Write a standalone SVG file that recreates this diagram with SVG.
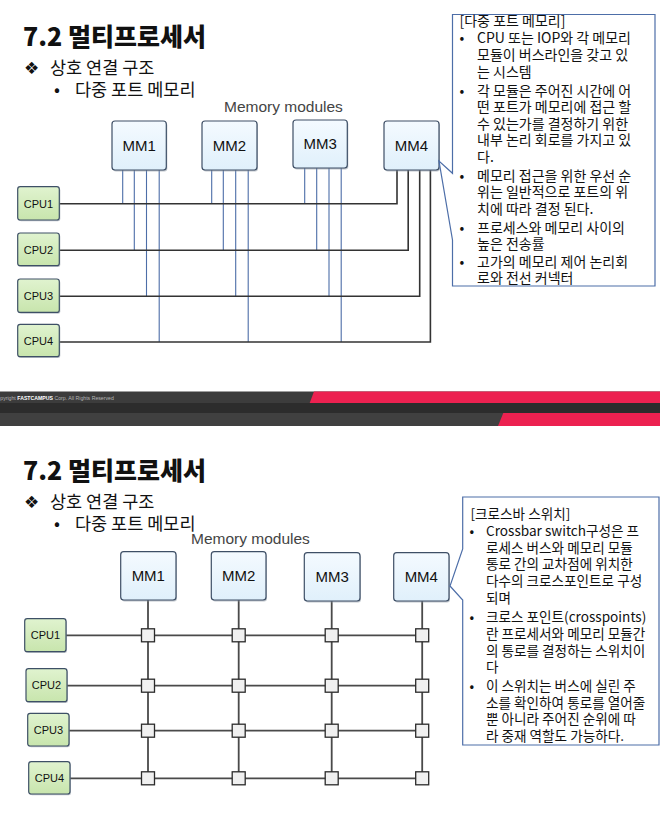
<svg xmlns="http://www.w3.org/2000/svg" width="660" height="815" viewBox="0 0 660 815">
  <defs>
    <linearGradient id="gMem" x1="0" y1="0" x2="0" y2="1">
      <stop offset="0" stop-color="#f4faff"/>
      <stop offset="1" stop-color="#e0f0fb"/>
    </linearGradient>
    <linearGradient id="gCpu" x1="0" y1="0" x2="0" y2="1">
      <stop offset="0" stop-color="#e0f3cf"/>
      <stop offset="1" stop-color="#c8e5ad"/>
    </linearGradient>
    <style>
      .title { font-family: "Noto Sans CJK KR", "Noto Sans", sans-serif; font-weight: 900; font-size: 25px; fill: #111; }
      .lvl1 { font-family: "Noto Sans CJK KR", "Noto Sans", sans-serif; font-size: 17.5px; fill: #111; }
      .sym { font-family: "DejaVu Sans", sans-serif; font-size: 17px; fill: #111; }
      .caption { font-family: "Liberation Sans", Arial, sans-serif; font-size: 15.5px; fill: #444; }
      .shadow { fill: #8a95a3; opacity: 0.55; }
      .mem { fill: url(#gMem); stroke: #3e4f66; stroke-width: 1.2; }
      .cpu { fill: url(#gCpu); stroke: #3e5066; stroke-width: 1.2; }
      .memlbl { font-family: "Liberation Sans", Arial, sans-serif; font-size: 15px; fill: #111; text-anchor: middle; }
      .cpulbl { font-family: "Liberation Sans", Arial, sans-serif; font-size: 11px; fill: #111; text-anchor: middle; }
      .bus { fill: none; stroke: #333; stroke-width: 1.6; }
      .port { fill: none; stroke: #4d6ea8; stroke-width: 1.1; }
      .grid { fill: none; stroke: #4a4a4a; stroke-width: 1.8; }
      .xpt { fill: #f0f0f0; stroke: #2b2b2b; stroke-width: 1.3; }
      .callout { fill: #fff; stroke: #4d6ea8; stroke-width: 1.2; }
      .note { font-family: "Noto Sans CJK KR", "Noto Sans", sans-serif; fill: #111; }
    </style>
  </defs>

  <rect width="660" height="815" fill="#fff"/>

  <!-- ===== Slide 1: multi-port memory ===== -->
  <g id="slide1">
    <text class="title" x="23" y="46">7.2 멀티프로세서</text>
    <text class="sym" x="24" y="74">❖</text>
    <text class="lvl1" x="50" y="74">상호 연결 구조</text>
    <text class="lvl1" x="54" y="96">•</text>
    <text class="lvl1" x="75" y="96">다중 포트 메모리</text>
    <text class="caption" x="224" y="112">Memory modules</text>

    <!-- bus and port wiring -->
    <g id="s1-connectors">
      <!-- MM1 ports -->
      <path class="port" d="M122.7,170V203.7 M134.3,170V250.3 M146.5,170V296.3 M159.2,170V342"/>
      <!-- MM2 ports -->
      <path class="port" d="M211.7,170V203.7 M223.3,170V250.3 M235.7,170V296.3 M248.2,170V342"/>
      <!-- MM3 ports -->
      <path class="port" d="M304.7,168V203.7 M316.7,168V250.3 M329,168V296.3 M341.2,168V342"/>
      <!-- CPU buses running to MM4 -->
      <path class="bus" d="M59.3,203.7H397V170"/>
      <path class="bus" d="M59.3,250.3H408.2V170"/>
      <path class="bus" d="M59.3,296.3H419.7V170"/>
      <path class="bus" d="M59.3,342H430.4V170"/>
    </g>

    <g id="s1-mm1"><rect class="shadow" x="113" y="122.5" width="54.3" height="49" rx="3"/><rect class="mem" x="112" y="121" width="54.3" height="49" rx="3"/><text class="memlbl" x="139.2" y="150.5">MM1</text></g>
    <g id="s1-mm2"><rect class="shadow" x="203" y="122.5" width="55" height="49" rx="3"/><rect class="mem" x="202" y="121" width="55" height="49" rx="3"/><text class="memlbl" x="229.5" y="150.5">MM2</text></g>
    <g id="s1-mm3"><rect class="shadow" x="294" y="121.5" width="54.3" height="48" rx="3"/><rect class="mem" x="293" y="120" width="54.3" height="48" rx="3"/><text class="memlbl" x="320.2" y="149">MM3</text></g>
    <g id="s1-mm4"><rect class="shadow" x="385" y="122.5" width="55" height="49" rx="3"/><rect class="mem" x="384" y="121" width="55" height="49" rx="3"/><text class="memlbl" x="411.5" y="150.5">MM4</text></g>

    <g id="s1-cpu1"><rect class="shadow" x="18.7" y="188" width="41.6" height="33.3" rx="2.5"/><rect class="cpu" x="17.7" y="186.7" width="41.6" height="33.3" rx="2.5"/><text class="cpulbl" x="38.5" y="207.5">CPU1</text></g>
    <g id="s1-cpu2"><rect class="shadow" x="18.7" y="234.3" width="41.6" height="32.7" rx="2.5"/><rect class="cpu" x="17.7" y="233" width="41.6" height="32.7" rx="2.5"/><text class="cpulbl" x="38.5" y="253.8">CPU2</text></g>
    <g id="s1-cpu3"><rect class="shadow" x="18.7" y="280.3" width="41.6" height="33.4" rx="2.5"/><rect class="cpu" x="17.7" y="279" width="41.6" height="33.4" rx="2.5"/><text class="cpulbl" x="38.5" y="300">CPU3</text></g>
    <g id="s1-cpu4"><rect class="shadow" x="18.7" y="325.6" width="41.6" height="32.4" rx="2.5"/><rect class="cpu" x="17.7" y="324.3" width="41.6" height="32.4" rx="2.5"/><text class="cpulbl" x="38.5" y="344.5">CPU4</text></g>

    <g id="s1-note">
      <path class="callout" d="M452.5,14.5H655V286H452.5V240L439,161L452.5,173.3Z"/>
      <text class="note" font-size="14">
        <tspan x="459.5" y="26">[다중 포트 메모리]</tspan>
        <tspan x="459.5" y="43">•</tspan><tspan x="477" y="43">CPU 또는 IOP와 각 메모리</tspan>
        <tspan x="477" y="60">모듈이 버스라인을 갖고 있</tspan>
        <tspan x="477" y="76.5">는 시스템</tspan>
        <tspan x="459.5" y="95.5">•</tspan><tspan x="477" y="95.5">각 모듈은 주어진 시간에 어</tspan>
        <tspan x="477" y="112">떤 포트가 메모리에 접근 할</tspan>
        <tspan x="477" y="128.5">수 있는가를 결정하기 위한</tspan>
        <tspan x="477" y="145">내부 논리 회로를 가지고 있</tspan>
        <tspan x="477" y="161.5">다.</tspan>
        <tspan x="459.5" y="180.5">•</tspan><tspan x="477" y="180.5">메모리 접근을 위한 우선 순</tspan>
        <tspan x="477" y="197">위는 일반적으로 포트의 위</tspan>
        <tspan x="477" y="213.5">치에 따라 결정 된다.</tspan>
        <tspan x="459.5" y="232.5">•</tspan><tspan x="477" y="232.5">프로세스와 메모리 사이의</tspan>
        <tspan x="477" y="249">높은 전송률</tspan>
        <tspan x="459.5" y="266.5">•</tspan><tspan x="477" y="266.5">고가의 메모리 제어 논리회</tspan>
        <tspan x="477" y="283">로와 전선 커넥터</tspan>
      </text>
    </g>
  </g>

  <!-- ===== Footer band ===== -->
  <g id="footer">
    <rect x="0" y="391.5" width="660" height="11.5" fill="#3c3c3c"/>
    <rect x="0" y="403" width="660" height="10" fill="#2c2c2c"/>
    <rect x="0" y="413" width="660" height="13" fill="#404040"/>
    <polygon points="314,391.5 660,391.5 660,403 309.7,403" fill="#ec2150"/>
    <polygon points="503.3,413 660,413 660,426 498,426" fill="#ec2150"/>
    <text x="-6.4" y="399.5" font-family="Liberation Sans, Arial, sans-serif" font-size="5.2" fill="#b5b5b5">Copyright <tspan font-weight="700" fill="#fff">FASTCAMPUS</tspan> Corp. All Rights Reserved</text>
  </g>

  <!-- ===== Slide 2: crossbar switch ===== -->
  <g id="slide2">
    <text class="title" x="23" y="479.5">7.2 멀티프로세서</text>
    <text class="sym" x="24" y="507.5">❖</text>
    <text class="lvl1" x="50" y="507.5">상호 연결 구조</text>
    <text class="lvl1" x="54" y="529.5">•</text>
    <text class="lvl1" x="75" y="529.5">다중 포트 메모리</text>
    <text class="caption" x="191" y="544">Memory modules</text>

    <g id="s2-connectors">
      <path class="grid" d="M148,600V778.3 M238.7,600V778.3 M331.7,601V778.3 M422.2,601V778.3"/>
      <path class="grid" d="M66,635.3H422.2 M67,685.7H422.2 M69,730.7H422.2 M70,778.3H422.2"/>
    </g>

    <g id="s2-crosspoints">
      <rect class="xpt" x="141.5" y="628.8" width="13" height="13"/>
      <rect class="xpt" x="232.2" y="628.8" width="13" height="13"/>
      <rect class="xpt" x="325.2" y="628.8" width="13" height="13"/>
      <rect class="xpt" x="415.7" y="628.8" width="13" height="13"/>
      <rect class="xpt" x="141.5" y="679.2" width="13" height="13"/>
      <rect class="xpt" x="232.2" y="679.2" width="13" height="13"/>
      <rect class="xpt" x="325.2" y="679.2" width="13" height="13"/>
      <rect class="xpt" x="415.7" y="679.2" width="13" height="13"/>
      <rect class="xpt" x="141.5" y="724.2" width="13" height="13"/>
      <rect class="xpt" x="232.2" y="724.2" width="13" height="13"/>
      <rect class="xpt" x="325.2" y="724.2" width="13" height="13"/>
      <rect class="xpt" x="415.7" y="724.2" width="13" height="13"/>
      <rect class="xpt" x="141.5" y="771.8" width="13" height="13"/>
      <rect class="xpt" x="232.2" y="771.8" width="13" height="13"/>
      <rect class="xpt" x="325.2" y="771.8" width="13" height="13"/>
      <rect class="xpt" x="415.7" y="771.8" width="13" height="13"/>
    </g>

    <g id="s2-mm1"><rect class="shadow" x="121.7" y="553.2" width="55.3" height="48.3" rx="3"/><rect class="mem" x="120.7" y="551.7" width="55.3" height="48.3" rx="3"/><text class="memlbl" x="148.3" y="581">MM1</text></g>
    <g id="s2-mm2"><rect class="shadow" x="212.3" y="553.2" width="54.7" height="48.3" rx="3"/><rect class="mem" x="211.3" y="551.7" width="54.7" height="48.3" rx="3"/><text class="memlbl" x="238.7" y="581">MM2</text></g>
    <g id="s2-mm3"><rect class="shadow" x="305.3" y="554.2" width="55.7" height="48.3" rx="3"/><rect class="mem" x="304.3" y="552.7" width="55.7" height="48.3" rx="3"/><text class="memlbl" x="332.2" y="582">MM3</text></g>
    <g id="s2-mm4"><rect class="shadow" x="394.7" y="554.2" width="55.3" height="48.3" rx="3"/><rect class="mem" x="393.7" y="552.7" width="55.3" height="48.3" rx="3"/><text class="memlbl" x="421.3" y="582">MM4</text></g>

    <g id="s2-cpu1"><rect class="shadow" x="25.7" y="620" width="41.3" height="33" rx="2.5"/><rect class="cpu" x="24.7" y="618.7" width="41.3" height="33" rx="2.5"/><text class="cpulbl" x="45.4" y="639.2">CPU1</text></g>
    <g id="s2-cpu2"><rect class="shadow" x="27" y="670" width="41" height="33" rx="2.5"/><rect class="cpu" x="26" y="668.7" width="41" height="33" rx="2.5"/><text class="cpulbl" x="46.5" y="689.2">CPU2</text></g>
    <g id="s2-cpu3"><rect class="shadow" x="28.7" y="714.6" width="41.3" height="32.7" rx="2.5"/><rect class="cpu" x="27.7" y="713.3" width="41.3" height="32.7" rx="2.5"/><text class="cpulbl" x="48.4" y="733.8">CPU3</text></g>
    <g id="s2-cpu4"><rect class="shadow" x="29.7" y="763" width="41.3" height="32.3" rx="2.5"/><rect class="cpu" x="28.7" y="761.7" width="41.3" height="32.3" rx="2.5"/><text class="cpulbl" x="49.4" y="782">CPU4</text></g>

    <g id="s2-note">
      <path class="callout" d="M462.7,497H659V745H462.7V600L450,586L462.7,549Z"/>
      <text class="note" font-size="13.6">
        <tspan x="470.5" y="519">[크로스바 스위치]</tspan>
        <tspan x="469.5" y="536">•</tspan><tspan x="486" y="536">Crossbar switch구성은 프</tspan>
        <tspan x="486" y="552.5">로세스 버스와 메모리 모듈</tspan>
        <tspan x="486" y="569">통로 간의 교차점에 위치한</tspan>
        <tspan x="486" y="586">다수의 크로스포인트로 구성</tspan>
        <tspan x="486" y="602.5">되며</tspan>
        <tspan x="469.5" y="622">•</tspan><tspan x="486" y="622">크로스 포인트(crosspoints)</tspan>
        <tspan x="486" y="639">란 프로세서와 메모리 모듈간</tspan>
        <tspan x="486" y="655.5">의 통로를 결정하는 스위치이</tspan>
        <tspan x="486" y="672">다</tspan>
        <tspan x="469.5" y="691">•</tspan><tspan x="486" y="691">이 스위치는 버스에 실린 주</tspan>
        <tspan x="486" y="707.5">소를 확인하여 통로를 열어줄</tspan>
        <tspan x="486" y="724">뿐 아니라 주어진 순위에 따</tspan>
        <tspan x="486" y="741">라 중재 역할도 가능하다.</tspan>
      </text>
    </g>
  </g>
</svg>
